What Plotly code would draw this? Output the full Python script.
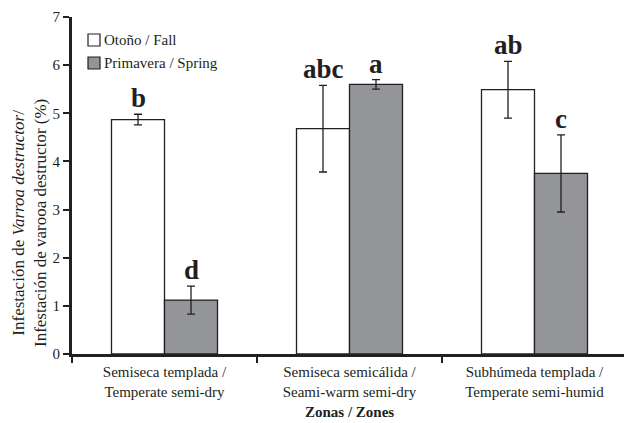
import plotly.graph_objects as go

zones = ["Semiseca templada /<br>Temperate semi-dry",
         "Semiseca semicálida /<br>Seami-warm semi-dry",
         "Subhúmeda templada /<br>Temperate semi-humid"]
fall = [4.87, 4.68, 5.49]
fall_err = [0.11, 0.90, 0.59]
fall_letters = ["b", "abc", "ab"]
spring = [1.12, 5.60, 3.75]
spring_err = [0.29, 0.10, 0.80]
spring_letters = ["d", "a", "c"]
yticks = [0, 1, 2, 3, 4, 5, 6, 7]
series_names = ["Otoño / Fall", "Primavera / Spring"]
x_title = "Zonas / Zones"
y_title = "Infestación de <i>Varroa destructor</i>/<br>Infestación de varooa destructor (%)"

FONT = "Liberation Serif"
TXT = "#231f20"
FILLS = ["white", "#939598"]
bargap = 0.427
FS = 15

# page offset (body margin 8px) compensation
OFF = 8
L, T, H = 72, 17, 337          # plot area in page pixels
W = 627 - 72

fig = go.Figure()
for name, vals, errs, fill in ((series_names[0], fall, fall_err, FILLS[0]),
                               (series_names[1], spring, spring_err, FILLS[1])):
    fig.add_trace(go.Bar(
        x=zones, y=vals, name=name, showlegend=False,
        marker=dict(color=fill, line=dict(color=TXT, width=1.3)),
        error_y=dict(type="data", array=errs, color=TXT, thickness=1.3, width=4),
    ))

off = (1 - bargap) / 4
for i in range(len(zones)):
    for vals, errs, letters, sgn in ((fall, fall_err, fall_letters, -1),
                                     (spring, spring_err, spring_letters, 1)):
        fig.add_annotation(
            x=i + sgn * off, y=vals[i] + errs[i], xref="x", yref="y",
            text="<b>" + letters[i] + "</b>", showarrow=False,
            yanchor="bottom", yshift=-1,
            font=dict(family=FONT, size=27, color=TXT),
        )

def px(xp): return (xp - L) / W
def py(yp): return (T + H - yp) / H

for k, (name, fill) in enumerate(zip(series_names, FILLS)):
    yc = 40 + k * 23
    fig.add_shape(type="rect", xref="paper", yref="paper",
                  x0=px(88), x1=px(100), y0=py(yc + 6), y1=py(yc - 6),
                  fillcolor=fill, line=dict(color=TXT, width=1.2))
    fig.add_annotation(xref="paper", yref="paper", x=px(102), y=py(yc),
                       xanchor="left", yanchor="middle", text=name, showarrow=False,
                       font=dict(family=FONT, size=FS, color=TXT))

fig.add_annotation(xref="paper", yref="paper", x=px(349), y=py(412),
                   xanchor="center", yanchor="middle", text="<b>" + x_title + "</b>",
                   showarrow=False, font=dict(family=FONT, size=FS, color=TXT))
fig.add_annotation(xref="paper", yref="paper", x=px(29), y=py(223),
                   xanchor="center", yanchor="middle", text=y_title, textangle=-90,
                   showarrow=False, font=dict(family=FONT, size=17, color=TXT))

fig.update_layout(
    width=632 - OFF, height=423 - OFF,
    margin=dict(l=L - OFF, r=632 - 627, t=T - OFF, b=423 - (T + H)),
    paper_bgcolor="white", plot_bgcolor="white",
    barmode="group", bargap=bargap, bargroupgap=0,
    font=dict(family=FONT, size=FS, color=TXT),
    showlegend=False,
    xaxis=dict(
        type="category", tickson="boundaries", ticks="outside", ticklen=6,
        tickwidth=2, tickcolor=TXT, automargin=False, ticklabelstandoff=2,
        showline=True, linecolor=TXT, linewidth=3,
        tickfont=dict(family=FONT, size=FS, color=TXT),
        showgrid=False, zeroline=False,
    ),
    yaxis=dict(
        range=[0, 7], tickvals=yticks, ticks="outside", ticklen=6, tickwidth=2,
        tickcolor=TXT, showline=True, linecolor=TXT, linewidth=3, automargin=False,
        tickfont=dict(family=FONT, size=FS, color=TXT),
        showgrid=False, zeroline=False,
    ),
)

fig.write_html("out.html")
